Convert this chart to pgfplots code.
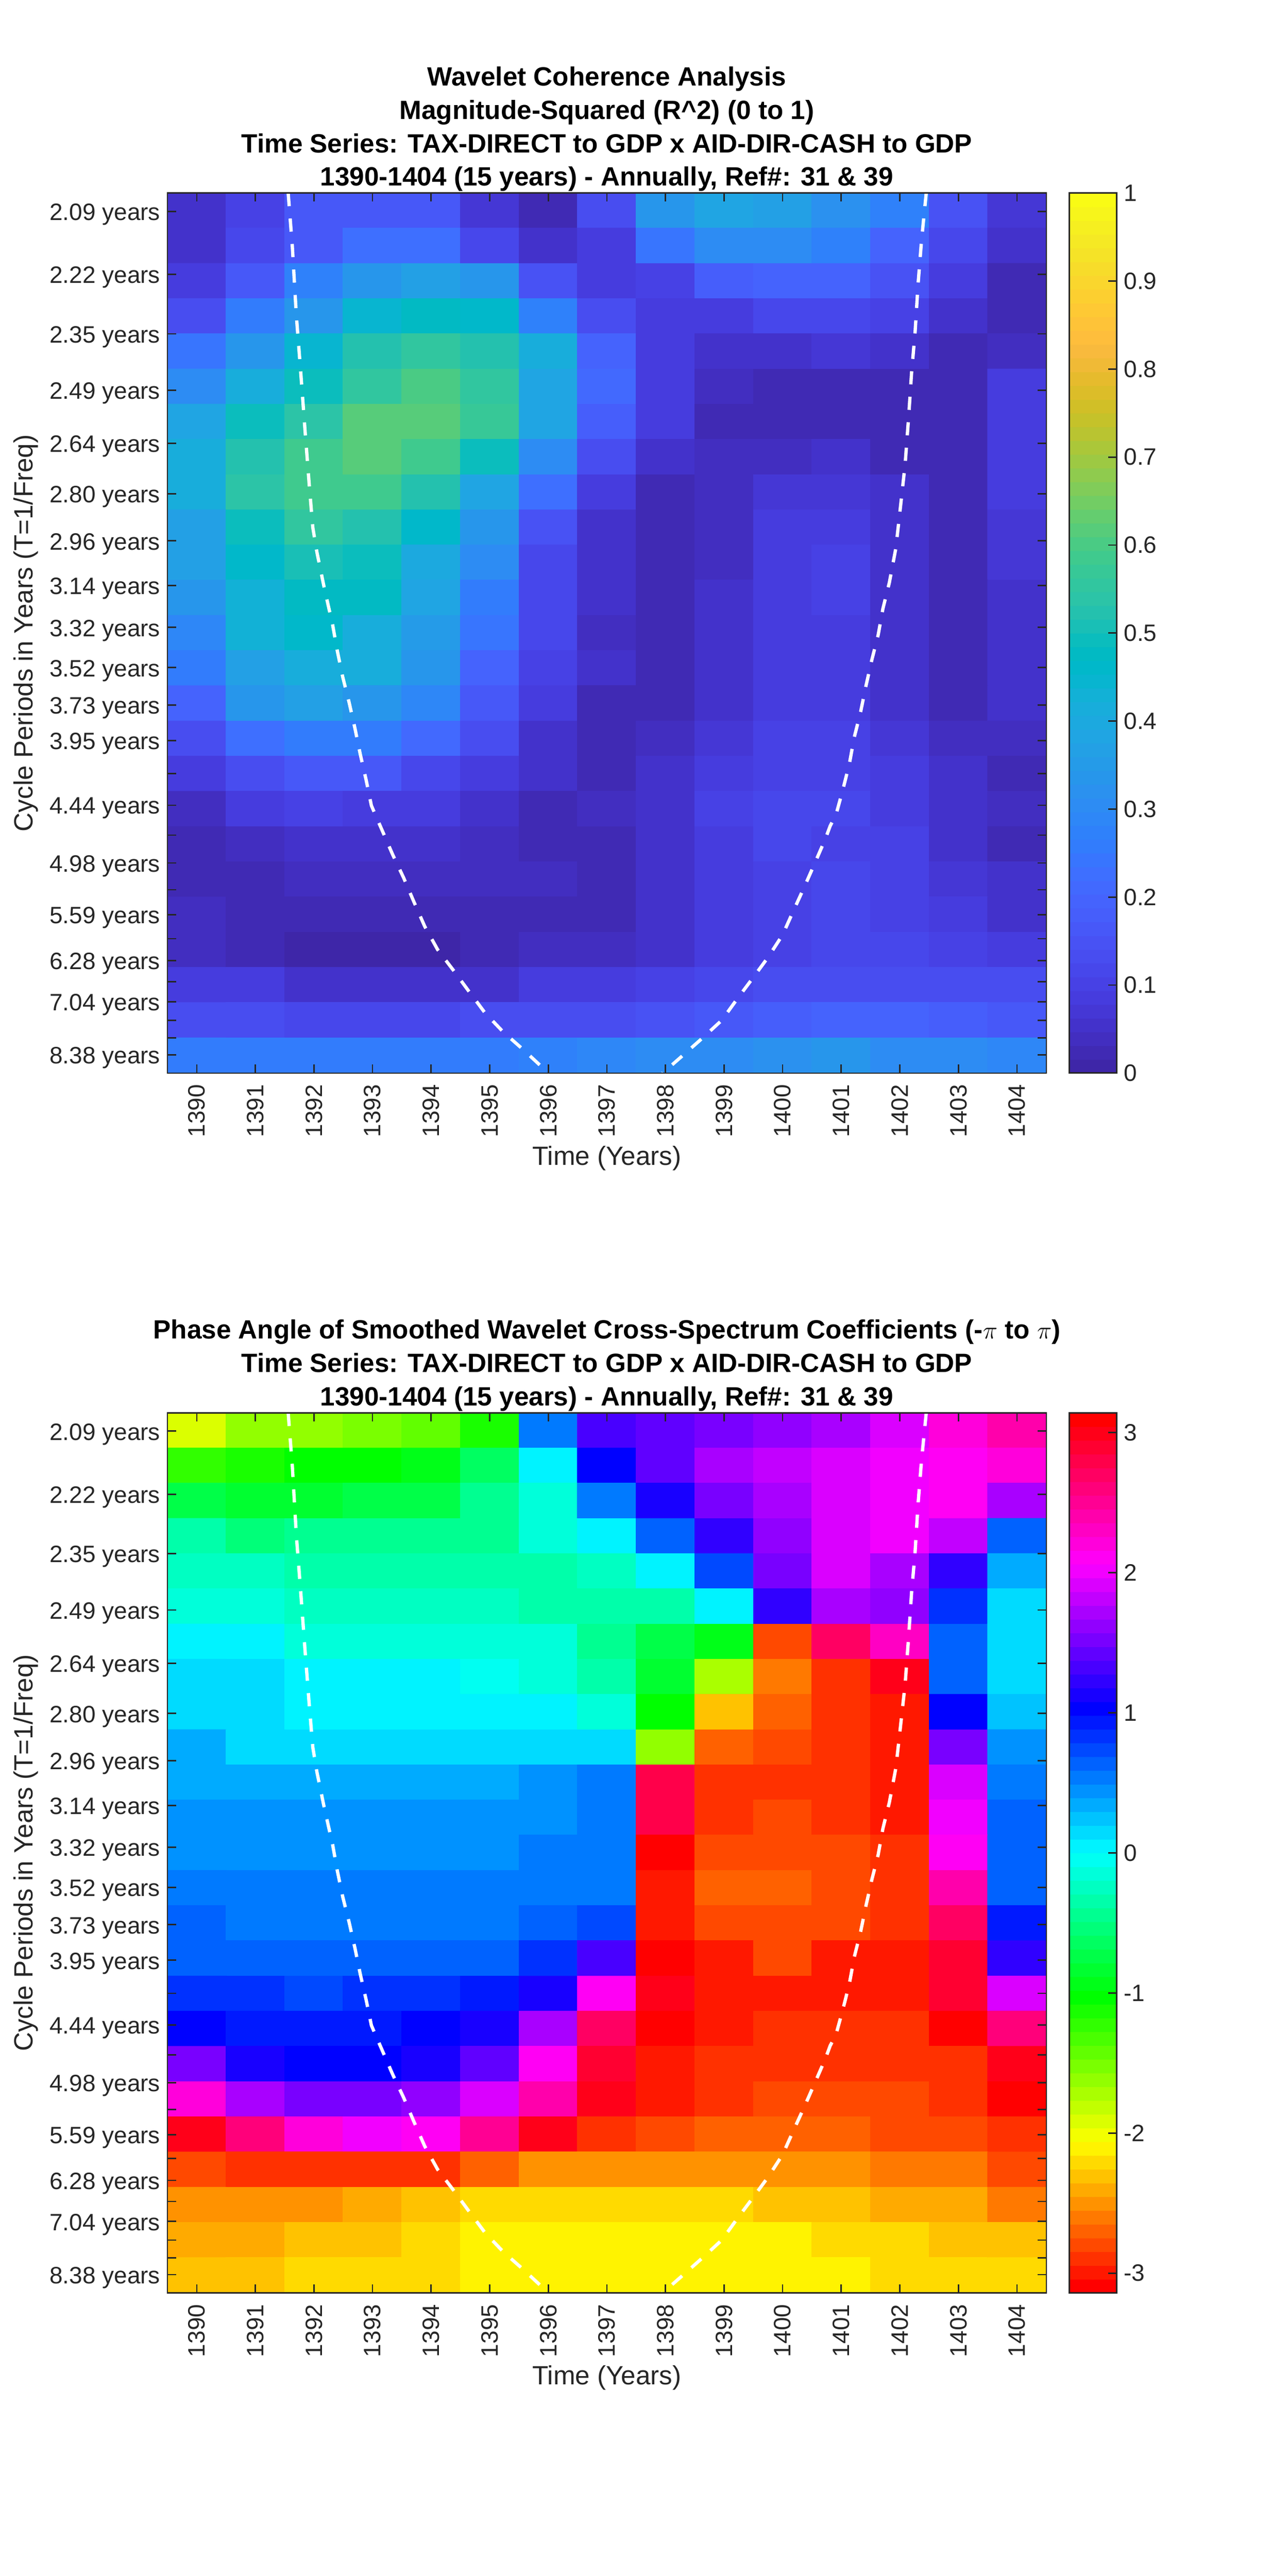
\documentclass[border=0pt]{standalone}
\usepackage{fontspec}
\setmainfont{Liberation Sans}
\usepackage{pgfplots}
\usepackage{pgfplotstable}
\pgfplotsset{compat=1.18}
\definecolor{axcol}{RGB}{38,38,38}

\pgfplotsset{
  colormap={parula64}{
    rgb=(.2422,.1504,.6603) rgb=(.2504,.1650,.7076) rgb=(.2578,.1818,.7511) rgb=(.2647,.1978,.7952)
    rgb=(.2706,.2147,.8364) rgb=(.2751,.2342,.8710) rgb=(.2783,.2559,.8991) rgb=(.2803,.2782,.9221)
    rgb=(.2813,.3006,.9414) rgb=(.2810,.3228,.9579) rgb=(.2795,.3447,.9717) rgb=(.2760,.3667,.9829)
    rgb=(.2699,.3892,.9906) rgb=(.2602,.4123,.9952) rgb=(.2440,.4358,.9988) rgb=(.2206,.4603,.9973)
    rgb=(.1963,.4847,.9892) rgb=(.1834,.5074,.9798) rgb=(.1786,.5289,.9682) rgb=(.1764,.5499,.9520)
    rgb=(.1687,.5703,.9359) rgb=(.1540,.5902,.9218) rgb=(.1460,.6091,.9079) rgb=(.1380,.6276,.8973)
    rgb=(.1248,.6459,.8883) rgb=(.1113,.6635,.8763) rgb=(.0952,.6798,.8598) rgb=(.0689,.6948,.8394)
    rgb=(.0297,.7082,.8163) rgb=(.0036,.7203,.7917) rgb=(.0067,.7312,.7660) rgb=(.0433,.7411,.7394)
    rgb=(.0964,.7500,.7120) rgb=(.1408,.7584,.6842) rgb=(.1717,.7670,.6554) rgb=(.1938,.7758,.6251)
    rgb=(.2161,.7843,.5923) rgb=(.2470,.7918,.5567) rgb=(.2906,.7973,.5188) rgb=(.3406,.8008,.4789)
    rgb=(.3909,.8029,.4354) rgb=(.4456,.8024,.3909) rgb=(.5044,.7993,.3480) rgb=(.5616,.7942,.3045)
    rgb=(.6174,.7876,.2612) rgb=(.6720,.7793,.2227) rgb=(.7242,.7698,.1910) rgb=(.7738,.7598,.1646)
    rgb=(.8203,.7498,.1535) rgb=(.8634,.7406,.1596) rgb=(.9035,.7330,.1774) rgb=(.9393,.7288,.2100)
    rgb=(.9728,.7298,.2394) rgb=(.9956,.7434,.2371) rgb=(.9970,.7659,.2199) rgb=(.9952,.7893,.2028)
    rgb=(.9892,.8136,.1885) rgb=(.9786,.8386,.1766) rgb=(.9676,.8639,.1643) rgb=(.9610,.8890,.1537)
    rgb=(.9597,.9135,.1423) rgb=(.9628,.9373,.1265) rgb=(.9691,.9606,.1064) rgb=(.9769,.9839,.0805)
  },
  colormap={hsvbase}{rgb255=(255,0,0) rgb255=(255,255,0) rgb255=(0,255,0) rgb255=(0,255,255) rgb255=(0,0,255) rgb255=(255,0,255) rgb255=(255,0,0)},
  colormap={hsv64}{samples of colormap=(64 of hsvbase)},
}

% coherence, one line per row of cells, top to bottom
\pgfplotstableread[row sep=crcr]{
v\\
.05\\.10\\.17\\.17\\.16\\.07\\.02\\.13\\.33\\.38\\.37\\.32\\.27\\.15\\.07\\
.05\\.11\\.17\\.22\\.23\\.12\\.05\\.09\\.24\\.31\\.31\\.27\\.19\\.12\\.05\\
.08\\.17\\.27\\.33\\.36\\.33\\.15\\.09\\.10\\.18\\.20\\.20\\.15\\.08\\.03\\
.14\\.25\\.33\\.45\\.47\\.46\\.28\\.13\\.09\\.09\\.12\\.12\\.10\\.05\\.03\\
.24\\.34\\.45\\.53\\.55\\.53\\.41\\.20\\.08\\.05\\.06\\.07\\.06\\.03\\.04\\
.30\\.42\\.49\\.55\\.60\\.55\\.39\\.21\\.09\\.04\\.02\\.03\\.03\\.03\\.09\\
.39\\.49\\.54\\.62\\.62\\.57\\.39\\.18\\.08\\.02\\.02\\.02\\.02\\.02\\.09\\
.41\\.53\\.59\\.62\\.59\\.49\\.31\\.13\\.05\\.04\\.04\\.05\\.03\\.03\\.09\\
.41\\.54\\.58\\.58\\.53\\.39\\.23\\.08\\.02\\.04\\.07\\.07\\.05\\.03\\.09\\
.37\\.49\\.55\\.53\\.46\\.34\\.15\\.05\\.02\\.04\\.09\\.09\\.05\\.02\\.07\\
.36\\.46\\.51\\.49\\.40\\.31\\.12\\.05\\.02\\.04\\.09\\.10\\.05\\.02\\.07\\
.33\\.43\\.47\\.47\\.39\\.26\\.11\\.05\\.02\\.05\\.09\\.10\\.05\\.02\\.06\\
.29\\.43\\.46\\.42\\.35\\.24\\.11\\.04\\.02\\.05\\.09\\.09\\.05\\.02\\.06\\
.26\\.36\\.41\\.41\\.33\\.20\\.10\\.05\\.02\\.05\\.09\\.09\\.06\\.02\\.05\\
.20\\.33\\.36\\.34\\.29\\.17\\.08\\.03\\.03\\.05\\.09\\.09\\.06\\.02\\.05\\
.14\\.22\\.26\\.26\\.21\\.14\\.06\\.02\\.04\\.07\\.10\\.10\\.07\\.04\\.04\\
.08\\.13\\.17\\.17\\.12\\.08\\.05\\.02\\.05\\.08\\.10\\.10\\.08\\.05\\.03\\
.04\\.09\\.10\\.09\\.08\\.05\\.03\\.04\\.06\\.10\\.12\\.12\\.09\\.05\\.04\\
.02\\.04\\.05\\.06\\.05\\.04\\.02\\.03\\.06\\.09\\.11\\.10\\.10\\.05\\.03\\
.02\\.02\\.04\\.04\\.04\\.04\\.04\\.03\\.06\\.09\\.10\\.11\\.10\\.07\\.05\\
.04\\.02\\.02\\.02\\.02\\.02\\.02\\.03\\.06\\.09\\.10\\.11\\.10\\.08\\.05\\
.04\\.03\\.01\\.01\\.01\\.02\\.04\\.04\\.06\\.09\\.10\\.11\\.11\\.10\\.09\\
.08\\.08\\.06\\.05\\.05\\.06\\.08\\.09\\.10\\.12\\.13\\.13\\.14\\.14\\.14\\
.13\\.13\\.12\\.11\\.11\\.13\\.14\\.14\\.15\\.17\\.18\\.19\\.19\\.18\\.17\\
.26\\.25\\.25\\.25\\.25\\.26\\.27\\.29\\.30\\.31\\.32\\.33\\.31\\.30\\.29\\
}\coherence

% phase angle, same layout
\pgfplotstableread[row sep=crcr]{
v\\
-1.95\\-1.65\\-1.6\\-1.5\\-1.41\\-1.17\\.52\\1.29\\1.38\\1.5\\1.62\\1.71\\1.87\\2.17\\2.36\\
-1.22\\-1.1\\-1.03\\-1.03\\-.98\\-.68\\0\\1.05\\1.42\\1.71\\1.78\\1.89\\2.0\\2.09\\2.24\\
-.7\\-.8\\-.8\\-.72\\-.72\\-.45\\-.1\\.52\\1.15\\1.53\\1.75\\1.87\\2.0\\2.09\\1.75\\
-.35\\-.52\\-.48\\-.45\\-.45\\-.45\\-.15\\0\\.68\\1.27\\1.62\\1.9\\2.03\\1.78\\.68\\
-.26\\-.26\\-.38\\-.38\\-.38\\-.38\\-.38\\-.2\\.02\\.78\\1.5\\1.87\\1.75\\1.23\\.3\\
-.12\\-.12\\-.25\\-.25\\-.25\\-.25\\-.33\\-.33\\-.33\\0\\1.27\\1.75\\1.62\\.82\\.18\\
0\\0\\-.1\\-.1\\-.1\\-.13\\-.17\\-.48\\-.72\\-.95\\-2.81\\2.72\\2.28\\.6\\.18\\
.1\\.1\\0\\0\\0\\-.03\\-.15\\-.33\\-.88\\-1.76\\-2.65\\-2.93\\3.02\\.6\\.18\\
.18\\.18\\.08\\.08\\.08\\.08\\0\\-.15\\-1.05\\-2.35\\-2.73\\-2.85\\-3.03\\1.05\\.28\\
.3\\.18\\.18\\.18\\.18\\.18\\.18\\.18\\-1.6\\-2.73\\-2.83\\-2.93\\-3.03\\1.53\\.4\\
.3\\.3\\.3\\.3\\.3\\.3\\.4\\.52\\2.78\\-2.93\\-2.93\\-2.93\\-3.03\\1.87\\.52\\
.4\\.4\\.4\\.4\\.4\\.4\\.4\\.52\\2.78\\-2.93\\-2.8\\-2.93\\-3.0\\2.0\\.6\\
.4\\.4\\.4\\.4\\.4\\.4\\.52\\.52\\-3.13\\-2.83\\-2.83\\-2.83\\-2.93\\2.09\\.6\\
.52\\.52\\.52\\.52\\.52\\.52\\.52\\.52\\-3.0\\-2.73\\-2.73\\-2.83\\-2.93\\2.4\\.68\\
.6\\.52\\.52\\.52\\.52\\.52\\.6\\.75\\-3.03\\-2.83\\-2.83\\-2.83\\-2.93\\2.68\\.9\\
.68\\.6\\.6\\.6\\.6\\.65\\.83\\1.33\\-3.13\\-2.96\\-2.83\\-2.96\\-3.03\\2.9\\1.23\\
.83\\.83\\.7\\.83\\.83\\.92\\1.15\\2.09\\3.02\\-2.96\\-2.96\\-2.96\\-3.03\\2.9\\1.95\\
1.05\\.92\\.92\\.92\\1.02\\1.12\\1.67\\2.68\\-3.12\\-3.03\\-2.93\\-2.93\\-2.93\\-3.12\\2.6\\
1.5\\1.15\\1.05\\1.05\\1.13\\1.42\\2.09\\2.9\\-3.03\\-2.93\\-2.85\\-2.85\\-2.93\\-2.93\\3.0\\
2.24\\1.67\\1.5\\1.5\\1.58\\1.95\\2.45\\2.95\\-3.03\\-2.93\\-2.83\\-2.83\\-2.83\\-2.93\\3.13\\
3.0\\2.6\\2.24\\2.05\\2.07\\2.55\\3.03\\-2.93\\-2.77\\-2.73\\-2.73\\-2.73\\-2.8\\-2.8\\-2.9\\
-2.83\\-2.93\\-2.93\\-2.93\\-2.85\\-2.67\\-2.55\\-2.55\\-2.55\\-2.55\\-2.55\\-2.55\\-2.65\\-2.65\\-2.75\\
-2.55\\-2.55\\-2.55\\-2.45\\-2.35\\-2.25\\-2.25\\-2.25\\-2.25\\-2.25\\-2.35\\-2.35\\-2.45\\-2.45\\-2.57\\
-2.45\\-2.45\\-2.35\\-2.35\\-2.25\\-2.15\\-2.15\\-2.15\\-2.15\\-2.15\\-2.15\\-2.25\\-2.25\\-2.35\\-2.35\\
-2.33\\-2.33\\-2.25\\-2.25\\-2.25\\-2.15\\-2.15\\-2.15\\-2.15\\-2.15\\-2.15\\-2.15\\-2.25\\-2.25\\-2.25\\
}\phase

% the 64 levels of a colour bar, as fractions of its height
\pgfplotstableread[row sep=crcr]{
x y\\
0 .0078\\1 .0078\\0 .0234\\1 .0234\\0 .0391\\1 .0391\\0 .0547\\1 .0547\\0 .0703\\1 .0703\\0 .0859\\1 .0859\\0 .1016\\1 .1016\\0 .1172\\1 .1172\\
0 .1328\\1 .1328\\0 .1484\\1 .1484\\0 .1641\\1 .1641\\0 .1797\\1 .1797\\0 .1953\\1 .1953\\0 .2109\\1 .2109\\0 .2266\\1 .2266\\0 .2422\\1 .2422\\
0 .2578\\1 .2578\\0 .2734\\1 .2734\\0 .2891\\1 .2891\\0 .3047\\1 .3047\\0 .3203\\1 .3203\\0 .3359\\1 .3359\\0 .3516\\1 .3516\\0 .3672\\1 .3672\\
0 .3828\\1 .3828\\0 .3984\\1 .3984\\0 .4141\\1 .4141\\0 .4297\\1 .4297\\0 .4453\\1 .4453\\0 .4609\\1 .4609\\0 .4766\\1 .4766\\0 .4922\\1 .4922\\
0 .5078\\1 .5078\\0 .5234\\1 .5234\\0 .5391\\1 .5391\\0 .5547\\1 .5547\\0 .5703\\1 .5703\\0 .5859\\1 .5859\\0 .6016\\1 .6016\\0 .6172\\1 .6172\\
0 .6328\\1 .6328\\0 .6484\\1 .6484\\0 .6641\\1 .6641\\0 .6797\\1 .6797\\0 .6953\\1 .6953\\0 .7109\\1 .7109\\0 .7266\\1 .7266\\0 .7422\\1 .7422\\
0 .7578\\1 .7578\\0 .7734\\1 .7734\\0 .7891\\1 .7891\\0 .8047\\1 .8047\\0 .8203\\1 .8203\\0 .8359\\1 .8359\\0 .8516\\1 .8516\\0 .8672\\1 .8672\\
0 .8828\\1 .8828\\0 .8984\\1 .8984\\0 .9141\\1 .9141\\0 .9297\\1 .9297\\0 .9453\\1 .9453\\0 .9609\\1 .9609\\0 .9766\\1 .9766\\0 .9922\\1 .9922\\
}\levels

% cone of influence, year and row position
\pgfplotstableread{
x y
1391.56 0
1391.63 1.5
1391.70 3.5
1391.77 5.0
1391.85 6.8
1391.92 8.3
1391.98 9.5
1392.05 10.2
1392.17 11.17
1392.32 12.28
1392.40 13.02
1392.49 13.74
1392.60 14.47
1392.70 15.21
1392.79 15.94
1392.89 16.67
1392.98 17.40
1393.16 18.09
1393.34 18.78
1393.53 19.45
1393.71 20.15
1393.89 20.83
1394.11 21.49
1394.38 22.08
1394.65 22.69
1394.92 23.29
1395.23 23.83
1395.57 24.33
1395.90 24.84
1396.00 25
}\coileft
\pgfplotstableread{
x y
1402.45 0
1402.37 1.34
1402.31 2.6
1402.26 3.95
1402.20 5.1
1402.15 6.35
1402.09 7.7
1402.00 9.07
1401.93 10.1
1401.82 11.07
1401.71 11.81
1401.63 12.55
1401.52 13.27
1401.42 14.01
1401.33 14.74
1401.22 15.47
1401.14 16.2
1401.03 16.93
1400.91 17.66
1400.81 17.98
1400.73 18.34
1400.55 19.03
1400.37 19.71
1400.18 20.4
1400.00 21.07
1399.75 21.71
1399.49 22.3
1399.22 22.9
1398.96 23.5
1398.62 24.02
1398.28 24.52
1397.95 25
}\coiright

\pgfplotsset{
  wavelet/.style={
    scale only axis,
    anchor=south west,
    width=426.6pt,
    height=427.2pt,
    xmin=1389.5, xmax=1404.5,
    ymin=0, ymax=25,
    y dir=reverse,
    axis on top,
    axis line style={color=axcol,line width=.7pt},
    every tick/.style={color=axcol,line width=.7pt},
    major tick length=4.2pt,
    tick align=inside,
    xtick={1390,...,1404},
    xticklabel shift=2pt,
    x tick label style={rotate=90,anchor=east,font=\fontsize{11.5}{13}\selectfont,color=axcol,/pgf/number format/1000 sep={},/pgf/number format/assume math mode=true},
    ytick={.52,2.31,4.00,5.60,7.11,8.54,9.88,11.15,12.34,13.48,14.54,15.55,16.49,17.39,18.24,19.03,19.79,20.5,21.18,21.8,22.4,22.97,23.5,24.0,24.48},
    yticklabels={2.09 years,2.22 years,2.35 years,2.49 years,2.64 years,2.80 years,2.96 years,3.14 years,3.32 years,3.52 years,3.73 years,3.95 years,{},4.44 years,{},4.98 years,{},5.59 years,{},6.28 years,{},7.04 years,{},{},8.38 years},
    y tick label style={font=\fontsize{11.5}{13}\selectfont,color=axcol,yshift=-1.5pt},
    xlabel={Time (Years)},
    xlabel style={font=\fontsize{12.8}{15}\selectfont,color=axcol,at={(axis description cs:0.5,0)},anchor=base,yshift=-44.6pt},
    ylabel={Cycle Periods in Years (T=1/Freq)},
    ylabel style={font=\fontsize{12.8}{15}\selectfont,color=axcol,at={(axis description cs:0,0.5)},anchor=base,yshift=65.5pt},
    title style={font=\bfseries\fontsize{12.82}{16.2}\selectfont,align=center,at={(axis description cs:0.5,1)},anchor=south,inner sep=0pt,yshift=-5.4pt},
    colormap access=piecewise constant,
  },
  bar/.style={
    scale only axis,
    anchor=south west,
    width=23pt,
    height=427.2pt,
    xmin=-.5, xmax=1.5,
    ymin=0, ymax=1,
    xtick=\empty,
    ytick pos=right,
    yticklabel pos=right,
    axis on top,
    axis line style={color=axcol,line width=.7pt},
    every tick/.style={color=axcol,line width=.7pt},
    major tick length=4pt,
    tick align=inside,
    y tick label style={font=\fontsize{11.5}{13}\selectfont,color=axcol},
    colormap access=piecewise constant,
    point meta min=0, point meta max=1,
  },
  cells/.style={matrix plot*, mesh/cols=15, point meta=explicit},
  barcells/.style={matrix plot*, mesh/cols=2, point meta=y},
  coi/.style={mesh/check=false,sharp plot,no marks,white,line width=1.6pt,dash pattern=on 6.4pt off 6pt},
  table/rows/.style={x index=0,y index=0,x expr={1390+mod(\coordindex,15)},y expr={(\coordindex-mod(\coordindex,15))/15+0.5},meta=v},
}

\begin{document}
\begin{tikzpicture}
\path[use as bounding box] (0,0) rectangle (625pt,1250.4pt);

\begin{axis}[wavelet,
  at={(81.3pt,729.5pt)},
  colormap name=parula64,
  point meta min=0, point meta max=1,
  title={Wavelet Coherence Analysis\\Magnitude-Squared (R\^{}2) (0 to 1)\\Time Series: TAX-DIRECT to GDP x AID-DIR-CASH to GDP\\1390-1404 (15 years) - Annually, Ref\#: 31 \& 39},
]
\addplot[cells] table[rows] {\coherence};
\addplot[coi] table {\coileft};
\addplot[coi] table {\coiright};
\end{axis}

\begin{axis}[bar,
  at={(519pt,729.5pt)},
  colormap name=parula64,
  ytick={0,.1,.2,.3,.4,.5,.6,.7,.8,.9,1},
  yticklabels={0,0.1,0.2,0.3,0.4,0.5,0.6,0.7,0.8,0.9,1},
]
\addplot[barcells] table {\levels};
\end{axis}

\begin{axis}[wavelet,
  at={(81.3pt,137.4pt)},
  colormap name=hsv64,
  point meta min=-3.14159, point meta max=3.14159,
  title={Phase Angle of Smoothed Wavelet Cross-Spectrum Coefficients (-$\pi$ to $\pi$)\\Time Series: TAX-DIRECT to GDP x AID-DIR-CASH to GDP\\1390-1404 (15 years) - Annually, Ref\#: 31 \& 39},
]
\addplot[cells] table[rows] {\phase};
\addplot[coi] table {\coileft};
\addplot[coi] table {\coiright};
\end{axis}

\begin{axis}[bar,
  at={(519pt,137.4pt)},
  colormap name=hsv64,
  ytick={.0225,.1817,.3408,.5,.6592,.8183,.9775},
  yticklabels={-3,-2,-1,0,1,2,3},
]
\addplot[barcells] table {\levels};
\end{axis}
\end{tikzpicture}
\end{document}
